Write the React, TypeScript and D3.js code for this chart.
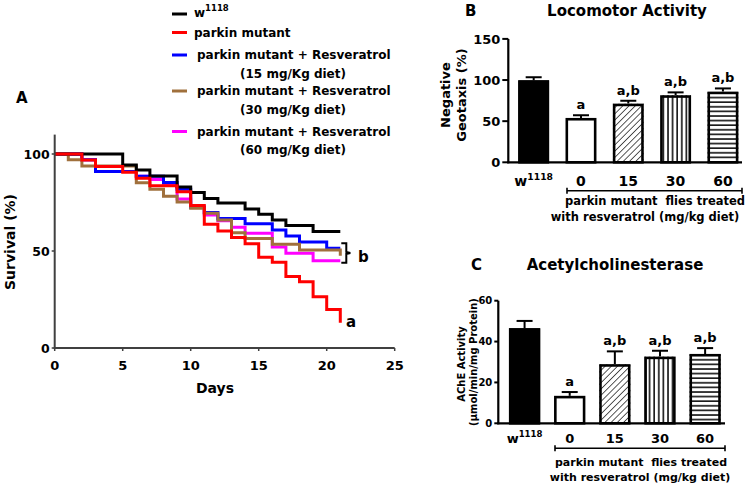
import React from 'react';
import * as d3 from 'd3';

// ---------- Panel A: survival (Kaplan–Meier style step curves) ----------
const seriesNames = ['w1118', 'parkin mutant', 'parkin mutant + Resveratrol', 'parkin mutant + Resveratrol', 'parkin mutant + Resveratrol'];
const seriesSubLines = ['', '', '(15 mg/Kg diet)', '(30 mg/Kg diet)', '(60 mg/Kg diet)'];
const seriesColors = ['#000000', '#ff0000', '#0000ff', '#a0703c', '#ff00ff'];

const daysW1118 = [0, 5, 6, 7, 9, 10, 11, 12, 14, 15, 16, 17, 19, 21];
const survW1118 = [100, 94.3, 91.8, 88.6, 83, 80.2, 77.1, 74.7, 71.6, 69, 66, 63.2, 60, 60];

const daysParkin = [0, 2, 3, 5, 6, 7, 9, 10, 11, 12, 13, 14, 15, 16, 17, 18, 19, 20, 21];
const survParkin = [100, 96.9, 93.5, 90.6, 87.5, 83.6, 80.6, 73.5, 63.8, 60.3, 57, 53.8, 46.8, 44.2, 36.8, 34.2, 26.4, 19.9, 13];

const daysRes15 = [0, 2, 3, 6, 8, 9, 10, 11, 12, 14, 16, 17, 18, 20, 21];
const survRes15 = [100, 97, 91, 88.5, 85.3, 81.8, 72.5, 69.8, 66.8, 64, 60.8, 57.7, 54.6, 51.4, 51.4];

const daysRes30 = [0, 1, 2, 6, 7, 8, 9, 10, 11, 12, 13, 14, 16, 18, 21];
const survRes30 = [100, 97, 93.8, 85.2, 81.8, 78.2, 75.2, 72, 69.4, 66, 59.4, 56.5, 53.5, 50.5, 47.5];

const daysRes60 = [0, 2, 3, 6, 7, 8, 9, 10, 11, 12, 13, 14, 16, 17, 19, 21];
const survRes60 = [100, 97, 91, 88.5, 86.9, 84, 76.8, 72.8, 68.5, 65.6, 62.2, 59.1, 52, 48.8, 45, 45];

const survTicksX = [0, 5, 10, 15, 20, 25];
const survTicksY = [0, 50, 100];

// ---------- Panels B and C: bar charts ----------
const barCategories = ['w1118', '0', '15', '30', '60'];
const barPatterns = ['solid', 'none', 'diag', 'vert', 'horiz'];

const locomotorMeans = [99.6, 53.8, 71.2, 81.4, 85.8];
const locomotorSE = [3.8, 3.4, 3.6, 3.6, 4.0];
const locomotorLetters = ['', 'a', 'a,b', 'a,b', 'a,b'];
const locomotorTicks = [0, 50, 100, 150];

const acheMeans = [46.5, 13.4, 28.9, 32.6, 33.9];
const acheSE = [3.6, 1.9, 6.3, 2.9, 2.9];
const acheLetters = ['', 'a', 'a,b', 'a,b', 'a,b'];
const acheTicks = [0, 20, 40, 60];

const FONT = '"DejaVu Sans", sans-serif';

function CategoryLabel({ x, y, label, size }: { x: number; y: number; label: string; size: number }) {
  if (label === 'w1118') {
    return (
      <text x={x} y={y} textAnchor="middle" fontFamily={FONT} fontWeight="bold" fontSize={size}>
        w<tspan fontSize={size * 0.66} dy={-size * 0.45}>1118</tspan>
      </text>
    );
  }
  return (
    <text x={x} y={y} textAnchor="middle" fontFamily={FONT} fontWeight="bold" fontSize={size}>
      {label}
    </text>
  );
}

function BarPanel(props: {
  means: number[]; se: number[]; letters: string[]; ticks: number[]; domainMax: number;
  x0: number; x1: number; y0: number; y1: number; barLeft: number; barRight: number; padInner: number;
  tickSize: number; tickLen: number; catSize: number; catY: number; bracketY: number; textY1: number; textY2: number;
  textX1: number; textX2: number; textSize: number; bracketLeft: number;
}) {
  const p = props;
  const y = d3.scaleLinear().domain([0, p.domainMax]).range([p.y0, p.y1]);
  const x = d3.scaleBand<string>().domain(barCategories)
    .range([p.barLeft, p.barRight]).paddingInner(p.padInner).paddingOuter(0);
  const bw = x.bandwidth();
  return (
    <g>
      {p.means.map((m, i) => {
        const c = barCategories[i];
        const bx = x(c)!;
        const top = y(m);
        const errTop = y(m + p.se[i]);
        const cx = bx + bw / 2;
        const pat = barPatterns[i];
        return (
          <g key={c}>
            <line x1={cx} x2={cx} y1={top} y2={errTop} stroke="#000" strokeWidth={2} />
            <line x1={cx - 8} x2={cx + 8} y1={errTop} y2={errTop} stroke="#000" strokeWidth={2} />
            <rect x={bx} y={top} width={bw} height={p.y0 - top} fill={pat === 'solid' ? '#000' : '#fff'} />
            {pat !== 'solid' && pat !== 'none' && (
              <rect x={bx} y={top} width={bw} height={p.y0 - top} fill={`url(#pat-${pat})`} />
            )}
            <rect x={bx + 1.2} y={top + 1.2} width={bw - 2.4} height={p.y0 - top - 1.2} fill="none" stroke="#000" strokeWidth={2.6} />
            {p.letters[i] && (
              <text x={cx} y={errTop - 6} textAnchor="middle" fontFamily={FONT} fontWeight="bold" fontSize={13}>
                {p.letters[i]}
              </text>
            )}
            <CategoryLabel x={cx} y={p.catY} label={c} size={p.catSize} />
          </g>
        );
      })}
      {/* axes */}
      <line x1={p.x0} x2={p.x0} y1={p.y0 + 1} y2={p.y1} stroke="#000" strokeWidth={2.2} />
      <line x1={p.x0 - 1} x2={p.x1} y1={p.y0} y2={p.y0} stroke="#000" strokeWidth={2.2} />
      {p.ticks.map((t) => (
        <g key={t}>
          <line x1={p.x0 - p.tickLen} x2={p.x0} y1={y(t)} y2={y(t)} stroke="#000" strokeWidth={2} />
          <text x={p.x0 - p.tickLen - 2} y={y(t)} dy="0.36em" textAnchor="end" fontFamily={FONT} fontWeight="bold" fontSize={p.tickSize}>
            {t}
          </text>
        </g>
      ))}
      {/* group bracket */}
      <line x1={p.bracketLeft} x2={p.x1} y1={p.bracketY} y2={p.bracketY} stroke="#000" strokeWidth={1.6} />
      <line x1={p.bracketLeft} x2={p.bracketLeft} y1={p.bracketY - 3} y2={p.bracketY + 3} stroke="#000" strokeWidth={1.6} />
      <line x1={p.x1} x2={p.x1} y1={p.bracketY - 3} y2={p.bracketY + 3} stroke="#000" strokeWidth={1.6} />
      <text x={p.textX1} y={p.textY1} textAnchor="middle" fontFamily={FONT} fontWeight="bold" fontSize={p.textSize} style={{ whiteSpace: 'pre' }}>
        {'parkin mutant  flies treated'}
      </text>
      <text x={p.textX2} y={p.textY2} textAnchor="middle" fontFamily={FONT} fontWeight="bold" fontSize={p.textSize}>
        with resveratrol (mg/kg diet)
      </text>
    </g>
  );
}

export default function App() {
  const xA = d3.scaleLinear().domain([0, 25]).range([54.7, 394.7]);
  const yA = d3.scaleLinear().domain([0, 110]).range([348, 134.6]);
  const stepLine = d3.line<[number, number]>().x((d) => xA(d[0])).y((d) => yA(d[1])).curve(d3.curveStepAfter);

  const series: [number[], number[]][] = [
    [daysW1118, survW1118],
    [daysParkin, survParkin],
    [daysRes15, survRes15],
    [daysRes30, survRes30],
    [daysRes60, survRes60],
  ];
  const drawOrder = [4, 2, 3, 0, 1];

  const legendLineY = [14, 32.5, 55, 91, 131.5];
  const legendTextY = [17, 37, 59, 95, 136];
  const legendSubY = [0, 0, 77.5, 113.5, 154];

  return (
    <svg width={749} height={487} style={{ position: 'absolute', left: 0, top: 0, background: '#fff' }}>
      <defs>
        <pattern id="pat-diag" patternUnits="userSpaceOnUse" width={4.4} height={8} patternTransform="rotate(45)">
          <line x1={0} y1={0} x2={0} y2={8} stroke="#000" strokeWidth={1.3} />
        </pattern>
        <pattern id="pat-vert" patternUnits="userSpaceOnUse" width={4.6} height={8}>
          <line x1={1} y1={0} x2={1} y2={8} stroke="#000" strokeWidth={1.5} />
        </pattern>
        <pattern id="pat-horiz" patternUnits="userSpaceOnUse" width={8} height={4.6}>
          <line x1={0} y1={1} x2={8} y2={1} stroke="#000" strokeWidth={1.5} />
        </pattern>
      </defs>
      <rect x={0} y={0} width={749} height={487} fill="#fff" />

      {/* ---------------- Panel A ---------------- */}
      <text x={16} y={103} fontFamily={FONT} fontWeight="bold" fontSize={15}>A</text>
      {series.map((_, i) => (
        <g key={`leg${i}`}>
          <line x1={172} x2={187} y1={legendLineY[i]} y2={legendLineY[i]} stroke={seriesColors[i]} strokeWidth={3} />
          {i === 0 ? (
            <text x={194} y={legendTextY[i]} fontFamily={FONT} fontWeight="bold" fontSize={12}>
              w<tspan fontSize={8.5} dy={-6}>1118</tspan>
            </text>
          ) : (
            <text x={i === 1 ? 194 : 197} y={legendTextY[i]} fontFamily={FONT} fontWeight="bold" fontSize={12}>
              {seriesNames[i]}
            </text>
          )}
          {seriesSubLines[i] && (
            <text x={293} y={legendSubY[i]} textAnchor="middle" fontFamily={FONT} fontWeight="bold" fontSize={12}>
              {seriesSubLines[i]}
            </text>
          )}
        </g>
      ))}

      {drawOrder.map((i) => {
        const [ds, vs] = series[i];
        const pts: [number, number][] = ds.map((d, j) => [d, vs[j]]);
        return <path key={`s${i}`} d={stepLine(pts) || ''} fill="none" stroke={seriesColors[i]} strokeWidth={3} />;
      })}

      {/* axes A */}
      <line x1={xA(0)} x2={xA(0)} y1={yA(0) + 1} y2={yA(110)} stroke="#404040" strokeWidth={2} />
      <line x1={xA(0) - 1} x2={xA(25)} y1={yA(0)} y2={yA(0)} stroke="#404040" strokeWidth={2} />
      {survTicksY.map((t) => (
        <g key={`ya${t}`}>
          <line x1={xA(0) - 3} x2={xA(0)} y1={yA(t)} y2={yA(t)} stroke="#404040" strokeWidth={1.5} />
          <text x={xA(0) - 5} y={yA(t)} dy="0.36em" textAnchor="end" fontFamily={FONT} fontWeight="bold" fontSize={12.5}>{t}</text>
        </g>
      ))}
      {survTicksX.map((t) => (
        <g key={`xa${t}`}>
          <line x1={xA(t)} x2={xA(t)} y1={yA(0)} y2={yA(0) + 3} stroke="#404040" strokeWidth={1.5} />
          <text x={xA(t)} y={370} textAnchor="middle" fontFamily={FONT} fontWeight="bold" fontSize={13}>{t}</text>
        </g>
      ))}
      <text x={215} y={393} textAnchor="middle" fontFamily={FONT} fontWeight="bold" fontSize={14}>Days</text>
      <text transform="translate(15,242) rotate(-90)" textAnchor="middle" fontFamily={FONT} fontWeight="bold" fontSize={14}>Survival (%)</text>

      {/* group annotations */}
      <path d={`M${xA(21) + 1},${yA(54)} H${xA(21) + 6} V${yA(49.5)} L${xA(21) + 10},${yA(49)} L${xA(21) + 6},${yA(48.5)} V${yA(44)} H${xA(21) + 1}`}
        fill="none" stroke="#000" strokeWidth={2} />
      <text x={358} y={262} fontFamily={FONT} fontWeight="bold" fontSize={15}>b</text>
      <text x={346} y={327} fontFamily={FONT} fontWeight="bold" fontSize={15}>a</text>

      {/* ---------------- Panel B ---------------- */}
      <text x={465} y={16} fontFamily={FONT} fontWeight="bold" fontSize={15}>B</text>
      <text x={627} y={16} textAnchor="middle" fontFamily={FONT} fontWeight="bold" fontSize={15}>Locomotor Activity</text>
      <text transform="translate(450,95) rotate(-90)" textAnchor="middle" fontFamily={FONT} fontWeight="bold" fontSize={13}>Negative</text>
      <text transform="translate(466,95) rotate(-90)" textAnchor="middle" fontFamily={FONT} fontWeight="bold" fontSize={13}>Geotaxis (%)</text>
      <BarPanel
        means={locomotorMeans} se={locomotorSE} letters={locomotorLetters} ticks={locomotorTicks} domainMax={150}
        x0={508.3} x1={742} y0={162.3} y1={38.9} barLeft={518.3} barRight={738.3} padInner={0.35}
        tickSize={13} tickLen={6} catSize={14} catY={186} bracketY={190.7} textY1={205} textY2={221}
        textX1={655} textX2={645} textSize={11.5} bracketLeft={567}
      />

      {/* ---------------- Panel C ---------------- */}
      <text x={471} y={270} fontFamily={FONT} fontWeight="bold" fontSize={15}>C</text>
      <text x={615} y={270} textAnchor="middle" fontFamily={FONT} fontWeight="bold" fontSize={15}>Acetylcholinesterase</text>
      <text transform="translate(465,364) rotate(-90)" textAnchor="middle" fontFamily={FONT} fontWeight="bold" fontSize={10}>AChE Activity</text>
      <text transform="translate(477,362) rotate(-90)" textAnchor="middle" fontFamily={FONT} fontWeight="bold" fontSize={10}>(µmol/min/mg Protein)</text>
      <BarPanel
        means={acheMeans} se={acheSE} letters={acheLetters} ticks={acheTicks} domainMax={60}
        x0={498.3} x1={725} y0={423.3} y1={300.7} barLeft={509} barRight={720.7} padInner={0.31}
        tickSize={10} tickLen={4} catSize={13} catY={443} bracketY={448.3} textY1={466} textY2={481}
        textX1={641} textX2={640} textSize={11} bracketLeft={555}
      />
    </svg>
  );
}
